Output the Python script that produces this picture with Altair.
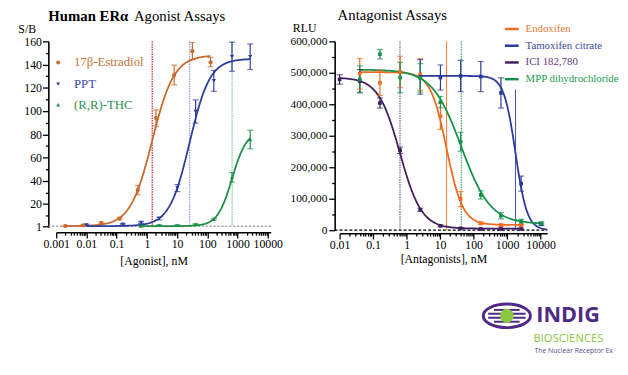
import numpy as np
import pandas as pd
import altair as alt

FONT = "Liberation Serif"

# ---------------- Agonist assays (S/B) ----------------
agonist_names = ["17β-Estradiol", "PPT", "(R,R)-THC"]
agonist_colors = ["#C8692E", "#2E3C9E", "#1E8E48"]
agonist_text_colors = ["#C8733A", "#3A4AAA", "#2A9454"]
agonist_shapes = ["circle", "triangle-down", "triangle-up"]

estradiol_conc = [0.002, 0.0078, 0.031, 0.125, 0.5, 2, 8, 32, 128]
estradiol_sb = [1.1, 1.7, 3.7, 7.5, 32, 94, 131, 151.5, 142]
estradiol_err = [0.5, 0.5, 0.8, 1.0, 4, 7, 8.5, 7.5, 4]

ppt_conc = [0.01, 0.16, 0.64, 2.56, 10.24, 41, 164, 655, 2621]
ppt_sb = [2.0, 2.6, 4.0, 7.5, 33.7, 99.6, 126, 146.7, 146.7]
ppt_err = [0.5, 0.5, 0.8, 1.2, 3, 10, 9, 12.5, 11]

thc_conc = [0.64, 2.56, 10.24, 41, 164, 655, 2621]
thc_sb = [1.1, 1.7, 1.7, 2.6, 6.9, 43, 75.5]
thc_err = [0.5, 0.5, 0.5, 0.5, 0.8, 4, 8]

# fitted 4-parameter logistic curves (parameters)
agonist_bottom = [1.0, 1.0, 1.0]
agonist_top = [148.0, 145.0, 83.0]
agonist_ec50 = [1.5, 26.0, 660.0]
agonist_hill = [1.2, 1.3, 1.8]
agonist_fit_from = [0.002, 0.01, 0.64]
agonist_fit_to = [128.0, 2621.0, 2621.0]
agonist_ec50_colors = ["#C0202A", "#8E98D4", "#7CC690"]

# ---------------- Antagonist assays (RLU) ----------------
antagonist_names = ["Endoxifen", "Tamoxifen citrate", "ICI 182,780", "MPP dihydrochloride"]
antagonist_colors = ["#F26B21", "#2B3A96", "#3F1F5E", "#15924A"]
antagonist_text_colors = ["#F07A36", "#3C4BA0", "#6A3A7A", "#1E9A50"]

endox_conc = [0.04, 0.16, 0.64, 2.56, 10.24, 41, 164, 655, 2621]
endox_rlu = [497000, 468000, 503000, 495000, 362000, 99000, 22000, 16000, 16000]
endox_err = [49000, 40000, 50000, 50000, 42000, 24000, 4000, 3000, 3000]

tam_conc = [2.56, 10.24, 41, 164, 655, 2621, 10486]
tam_rlu = [487000, 485000, 490000, 488000, 436000, 148000, 19000]
tam_err = [55000, 40000, 50000, 48000, 48000, 24000, 4000]

ici_conc = [0.01, 0.04, 0.16, 0.64, 2.56, 10.24, 41, 164, 655, 2621]
ici_rlu = [479000, 474000, 404000, 254000, 65000, 14000, 6000, 4000, 4000, 4000]
ici_err = [15000, 36000, 16000, 10000, 5000, 3000, 2000, 2000, 2000, 2000]

mpp_conc = [0.04, 0.16, 0.64, 2.56, 10.24, 41, 164, 655, 2621, 10486]
mpp_rlu = [479000, 559000, 485000, 484000, 407000, 281000, 112000, 46000, 27000, 21500]
mpp_err = [43000, 15000, 48000, 45000, 18000, 30000, 13000, 10000, 8000, 5000]

antagonist_bottom = [17000, 0, 5000, 20000]
antagonist_top = [502000, 490000, 485000, 510000]
antagonist_ic50 = [15.6, 1780, 0.635, 43]
antagonist_hill = [1.8, 2.5, 1.35, 1.0]
antagonist_fit_from = [0.04, 2.56, 0.01, 0.04]
antagonist_fit_to = [2621, 15700, 2621, 10486]
antagonist_ic50_colors = ["#F4823F", "#4A5AB0", "#6B4C8C", "#2BA05A"]
antagonist_ic50_top = [600000, 446000, 600000, 600000]
antagonist_ic50_dash = [[], [], [1.5, 1], [1.5, 1]]


def point_frame(names, concs, vals, errs):
    frames = []
    for n, c, v, e in zip(names, concs, vals, errs):
        v = np.array(v, float)
        e = np.array(e, float)
        frames.append(pd.DataFrame({"conc": c, "val": v, "lo": v - e, "hi": v + e, "series": n}))
    return pd.concat(frames, ignore_index=True)


def curve_frame(names, bottom, top, mid, hill, a, z, rising):
    frames = []
    for n, b, t, m, h, x0, x1 in zip(names, bottom, top, mid, hill, a, z):
        xs = np.logspace(np.log10(x0), np.log10(x1), 160)
        if rising:
            ys = b + (t - b) / (1 + (m / xs) ** h)
        else:
            ys = b + (t - b) / (1 + (xs / m) ** h)
        frames.append(pd.DataFrame({"conc": xs, "val": ys, "series": n}))
    return pd.concat(frames, ignore_index=True)


def log_axis(lo_exp, hi_exp, hi_limit, title, offset, title_x, title_y):
    majors = [10.0 ** k for k in range(lo_exp, hi_exp + 1)]
    minors = []
    for k in range(lo_exp, hi_exp + 1):
        for m in range(2, 10):
            v = m * 10.0 ** k
            if v <= hi_limit:
                minors.append(v)
    test = "abs(log(datum.value)/LN10 - round(log(datum.value)/LN10)) < 0.001"
    return alt.Axis(
        values=majors + minors,
        labelExpr=f"({test}) ? format(datum.value, '~g') : ''",
        tickSize={"condition": {"test": test, "value": 6}, "value": 3},
        labelOverlap=False, labelFlush=False, labelBound=False,
        offset=offset, title=title, titleX=title_x, titleY=title_y,
        titleAlign="center", titleBaseline="alphabetic", labelPadding=1,
    )


one = alt.Data(values=[{"k": 0}])

# ================= LEFT PANEL =================
W1, H1 = 218, 189
xl = alt.Scale(type="log", domain=[0.001, 12500], nice=False)
yl = alt.Scale(domain=[0, 160], nice=False)
xaxis_l = log_axis(-3, 4, 12500, "[Agonist], nM", 5, 99, 33)
ytest_l = "datum.value == 1 || datum.value % 20 == 0"
yaxis_l = alt.Axis(
    values=[1] + list(range(20, 161, 20)) + list(range(10, 160, 20)),
    labelExpr=f"({ytest_l}) ? format(datum.value, 'd') : ''",
    tickSize={"condition": {"test": ytest_l, "value": 6}, "value": 3},
    labelOverlap=False, labelFlush=False, offset=8, labelPadding=1,
    title="S/B", titleAngle=0, titleAlign="left", titleBaseline="alphabetic",
    titleX=-31, titleY=-9,
)


def XL(f):
    return alt.X(f, scale=xl, axis=xaxis_l)


def YL(f):
    return alt.Y(f, scale=yl, axis=yaxis_l)


pts_l = point_frame(agonist_names, [estradiol_conc, ppt_conc, thc_conc],
                    [estradiol_sb, ppt_sb, thc_sb], [estradiol_err, ppt_err, thc_err])
crv_l = curve_frame(agonist_names, agonist_bottom, agonist_top, agonist_ec50, agonist_hill,
                    agonist_fit_from, agonist_fit_to, True)
ec_l = pd.DataFrame({"conc": agonist_ec50, "top": [160] * 3, "bot": [1] * 3, "series": agonist_names})

col_l = alt.Color("series:N", scale=alt.Scale(domain=agonist_names, range=agonist_colors), legend=None)

base_l = alt.Chart(one).mark_rule(color="#8A8A8A", strokeDash=[2, 2], strokeWidth=1.3).encode(
    x=alt.value(-8), x2=alt.value(W1), y=alt.datum(1, scale=yl, axis=yaxis_l))

ec_layers_l = []
for i, n in enumerate(agonist_names):
    ec_layers_l.append(
        alt.Chart(ec_l[ec_l.series == n]).mark_rule(color=agonist_ec50_colors[i], strokeDash=[1.5, 1], strokeWidth=1.2).encode(
            x=XL("conc:Q"), y=YL("top:Q"), y2="bot:Q"))

curves_l = alt.Chart(crv_l).mark_line(strokeWidth=1.8).encode(
    x=XL("conc:Q"), y=YL("val:Q"), color=col_l, detail="series:N", order=alt.Order("conc:Q"))

err_l = alt.Chart(pts_l).mark_rule(strokeWidth=1.2).encode(
    x=XL("conc:Q"), y=YL("lo:Q"), y2="hi:Q", color=col_l)
caplo_l = alt.Chart(pts_l).mark_tick(orient="horizontal", size=6, thickness=1.2).encode(
    x=XL("conc:Q"), y=YL("lo:Q"), color=col_l)
caphi_l = alt.Chart(pts_l).mark_tick(orient="horizontal", size=6, thickness=1.2).encode(
    x=XL("conc:Q"), y=YL("hi:Q"), color=col_l)
dots_l = alt.Chart(pts_l).mark_point(filled=True, size=18, opacity=1).encode(
    x=XL("conc:Q"), y=YL("val:Q"), color=col_l,
    shape=alt.Shape("series:N", scale=alt.Scale(domain=agonist_names, range=agonist_shapes), legend=None))

leg_l = []
leg_ys = [21.5, 43.5, 64.5]
for i, n in enumerate(agonist_names):
    leg_l.append(alt.Chart(one).mark_point(filled=True, size=16, opacity=1, shape=agonist_shapes[i],
                                           color=agonist_colors[i]).encode(x=alt.value(2), y=alt.value(leg_ys[i])))
    leg_l.append(alt.Chart(one).mark_text(text=n, font=FONT, fontSize=13, align="left", baseline="middle",
                                          color=agonist_text_colors[i]).encode(x=alt.value(18), y=alt.value(leg_ys[i])))

title_l = [
    alt.Chart(one).mark_text(text="Human ERα", font=FONT, fontSize=15, fontWeight="bold", align="left",
                             baseline="alphabetic", color="black").encode(x=alt.value(-8), y=alt.value(-21)),
    alt.Chart(one).mark_text(text="Agonist Assays", font=FONT, fontSize=15, align="left",
                             baseline="alphabetic", color="black").encode(x=alt.value(79), y=alt.value(-21)),
]

left = alt.layer(base_l, *ec_layers_l, curves_l, err_l, caplo_l, caphi_l, dots_l, *leg_l, *title_l).properties(
    width=W1, height=H1)

# ================= RIGHT PANEL =================
W2, H2 = 211, 192
xr = alt.Scale(type="log", domain=[0.01, 15700], nice=False)
yr = alt.Scale(domain=[0, 600000], nice=False)
xaxis_r = log_axis(-2, 4, 15700, "[Antagonists], nM", 3, W2 / 2, 30)
ytest_r = "datum.value % 100000 == 0"
yaxis_r = alt.Axis(
    values=list(range(0, 600001, 50000)),
    labelExpr=f"({ytest_r}) ? format(datum.value, ',') : ''",
    tickSize={"condition": {"test": ytest_r, "value": 6}, "value": 3},
    labelOverlap=False, labelFlush=False, offset=5, labelPadding=2, labelFontSize=11.5,
    title="RLU", titleAngle=0, titleAlign="left", titleBaseline="alphabetic",
    titleX=-43, titleY=-10,
)


def XR(f):
    return alt.X(f, scale=xr, axis=xaxis_r)


def YR(f):
    return alt.Y(f, scale=yr, axis=yaxis_r)


pts_r = point_frame(antagonist_names, [endox_conc, tam_conc, ici_conc, mpp_conc],
                    [endox_rlu, tam_rlu, ici_rlu, mpp_rlu], [endox_err, tam_err, ici_err, mpp_err])
crv_r = curve_frame(antagonist_names, antagonist_bottom, antagonist_top, antagonist_ic50, antagonist_hill,
                    antagonist_fit_from, antagonist_fit_to, False)
ec_r = pd.DataFrame({"conc": antagonist_ic50, "top": antagonist_ic50_top, "bot": [0] * 4, "series": antagonist_names})

col_r = alt.Color("series:N", scale=alt.Scale(domain=antagonist_names, range=antagonist_colors), legend=None)

base_r = alt.Chart(one).mark_rule(color="black", strokeDash=[3, 2], strokeWidth=1.3).encode(
    x=alt.value(-5), x2=alt.value(W2), y=alt.datum(0, scale=yr, axis=yaxis_r))

ec_layers_r = []
for i, n in enumerate(antagonist_names):
    kw = {"strokeDash": antagonist_ic50_dash[i]} if antagonist_ic50_dash[i] else {}
    ec_layers_r.append(
        alt.Chart(ec_r[ec_r.series == n]).mark_rule(color=antagonist_ic50_colors[i], strokeWidth=1.1, **kw).encode(
            x=XR("conc:Q"), y=YR("top:Q"), y2="bot:Q"))

curves_r = alt.Chart(crv_r).mark_line(strokeWidth=1.8).encode(
    x=XR("conc:Q"), y=YR("val:Q"), color=col_r, detail="series:N", order=alt.Order("conc:Q"))
err_r = alt.Chart(pts_r).mark_rule(strokeWidth=1.2).encode(
    x=XR("conc:Q"), y=YR("lo:Q"), y2="hi:Q", color=col_r)
caplo_r = alt.Chart(pts_r).mark_tick(orient="horizontal", size=6, thickness=1.2).encode(
    x=XR("conc:Q"), y=YR("lo:Q"), color=col_r)
caphi_r = alt.Chart(pts_r).mark_tick(orient="horizontal", size=6, thickness=1.2).encode(
    x=XR("conc:Q"), y=YR("hi:Q"), color=col_r)
dots_r = alt.Chart(pts_r).mark_point(filled=True, size=14, opacity=1, shape="square").encode(
    x=XR("conc:Q"), y=YR("val:Q"), color=col_r)

leg_r = []
leg_ry = [-12.5, 4.5, 21.5, 38.5]
for i, n in enumerate(antagonist_names):
    leg_r.append(alt.Chart(one).mark_rule(color=antagonist_colors[i], strokeWidth=2.5).encode(
        x=alt.value(168), x2=alt.value(182), y=alt.value(leg_ry[i])))
    leg_r.append(alt.Chart(one).mark_text(text=n, font=FONT, fontSize=11, align="left", baseline="middle",
                                          color=antagonist_text_colors[i]).encode(
        x=alt.value(189), y=alt.value(leg_ry[i])))

title_r = alt.Chart(one).mark_text(text="Antagonist Assays", font=FONT, fontSize=15, align="left",
                                   baseline="alphabetic", color="black").encode(x=alt.value(-2), y=alt.value(-22))

# logo (INDIGO Biosciences)
PURPLE = "#4E2A84"
GREEN = "#8DC63F"
EYE_X, EYE_Y = 170, 279
logo = [
    alt.Chart(one).mark_point(shape="M -1 0 A 1 0.5 0 1 1 1 0 A 1 0.5 0 1 1 -1 0 Z", filled=False,
                              color=PURPLE, strokeWidth=3, size=2300, opacity=1).encode(
        x=alt.value(EYE_X), y=alt.value(EYE_Y)),
]
for dy, half in [(-6, 13), (-2, 19), (2, 19), (6, 13)]:
    logo.append(alt.Chart(one).mark_rule(color=PURPLE, strokeWidth=2).encode(
        x=alt.value(EYE_X - half), x2=alt.value(EYE_X + half), y=alt.value(EYE_Y + dy)))
logo += [
    alt.Chart(one).mark_point(shape="circle", filled=True, color=GREEN, size=200, opacity=1).encode(
        x=alt.value(EYE_X), y=alt.value(EYE_Y)),
    alt.Chart(one).mark_text(text="INDIGO", font="Open Sans", fontSize=22, fontWeight="bold", align="left",
                             baseline="alphabetic", color=PURPLE, limit=80, ellipsis=" ").encode(
        x=alt.value(200), y=alt.value(285)),
    alt.Chart(one).mark_text(text="BIOSCIENCES", font="Open Sans", fontSize=11.5, align="left",
                             baseline="alphabetic", color=GREEN, limit=82, ellipsis=" ").encode(
        x=alt.value(197), y=alt.value(306)),
    alt.Chart(one).mark_text(text="The Nuclear Receptor Experts", font="Open Sans", fontSize=7, align="left",
                             baseline="alphabetic", color="#5B4A8A", limit=82, ellipsis=" ").encode(
        x=alt.value(198), y=alt.value(317)),
]

right = alt.layer(base_r, *ec_layers_r, curves_r, err_r, caplo_r, caphi_r, dots_r, *leg_r, title_r, *logo).properties(
    width=W2, height=H2)

chart = alt.hconcat(left, right, spacing=6).resolve_scale(
    color="independent", shape="independent"
).properties(
    padding={"left": 10, "top": -3, "right": 0, "bottom": 0}
).configure_axis(
    labelFont=FONT, titleFont=FONT, labelFontSize=12, titleFontSize=12, titleFontWeight="normal",
    domainColor="black", tickColor="black", labelColor="black", titleColor="black",
    grid=False, domainWidth=1.6, tickWidth=1.3,
).configure_view(stroke=None)

chart.save("out.html", embed_options={"renderer": "svg", "actions": False})
